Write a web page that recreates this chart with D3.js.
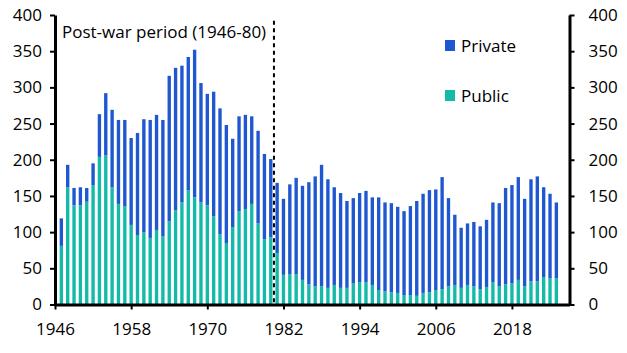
<!DOCTYPE html>
<html>
<head>
<meta charset="utf-8">
<script src="https://cdn.jsdelivr.net/npm/d3@7"></script>
<style>
  body { margin: 0; background: #fff; }
  svg text { font-family: "Open Sans", sans-serif; fill: #000; }
</style>
</head>
<body>
<svg width="627" height="353"></svg>
<script>
// years shown as bars
var years = d3.range(1947, 2026);

// housing completions, thousands
var publicVals = [81,162,137,137,142,165,204,206,162,139,136,110,96,100,92,103,94,115,130,141,
  158,148,141,137,122,97,85,107,129,132,139,112,90,93,71,41,42,42,34,28,
  25,25,23,27,23,23,29,31,31,27,20,18,17,16,13,13,12,16,17,20,
  21,25,27,23,27,25,21,24,31,25,28,29,34,25,32,32,38,36,36];

var privateVals = [38,31,24,25,19,30,59,86,107,116,119,120,141,156,163,159,161,201,197,189,
  184,204,165,154,172,174,163,122,131,130,121,128,118,108,97,105,124,133,130,141,
  152,168,150,135,131,120,118,123,126,121,128,123,123,119,116,123,131,137,141,139,
  155,122,97,83,85,89,87,93,110,115,133,136,142,121,141,145,124,117,105];

var yTicks = [0, 50, 100, 150, 200, 250, 300, 350, 400];
var xTicks = [1946, 1958, 1970, 1982, 1994, 2006, 2018];
var seriesNames = ["Private", "Public"];
var colors = {"Private": "#1f57d0", "Public": "#14baa8"};

var svg = d3.select("svg");
var plotL = 55, plotR = 569.5, plotT = 15, plotB = 304.5;

var x = d3.scaleLinear()
  .domain([1946, 2027.07])
  .range([plotL, plotR]);

var y = d3.scaleLinear()
  .domain([0, 400])
  .range([plotB, plotT]);

var barW = (x(1948) - x(1947)) * 0.53;

var rows = years.map(function(yr, i) {
  return {year: yr, Public: publicVals[i], Private: privateVals[i]};
});
var stack = d3.stack().keys(["Public", "Private"])(rows);

// bars
svg.append("g")
  .selectAll("g")
  .data(stack)
  .enter()
  .append("g")
  .attr("fill", function(d) { return colors[d.key]; })
  .selectAll("rect")
  .data(function(d) { return d; })
  .enter()
  .append("rect")
  .attr("x", function(d) { return x(d.data.year) - barW / 2; })
  .attr("width", barW)
  .attr("y", function(d) { return y(d[1]); })
  .attr("height", function(d) { return y(d[0]) - y(d[1]); });

// dashed divider after 1980
svg.append("line")
  .attr("x1", x(1980.5)).attr("x2", x(1980.5))
  .attr("y1", y(392)).attr("y2", y(0))
  .attr("stroke", "#000")
  .attr("stroke-width", 2)
  .attr("stroke-dasharray", "4,3.5");

// axes
function styleAxis(g) {
  g.select(".domain").attr("stroke-width", 3);
  g.selectAll(".tick line").attr("stroke-width", 2);
  g.selectAll(".tick text").style("font-size", "17px").style("font-family", "Open Sans");
}

svg.append("g")
  .attr("transform", "translate(" + plotL + ",0)")
  .call(d3.axisLeft(y).tickValues(yTicks).tickSize(5).tickSizeOuter(0).tickPadding(8))
  .call(styleAxis);

svg.append("g")
  .attr("transform", "translate(" + plotR + ",0)")
  .call(d3.axisRight(y).tickValues(yTicks).tickSize(5).tickSizeOuter(0).tickPadding(14))
  .call(styleAxis);

svg.append("g")
  .attr("transform", "translate(0," + plotB + ")")
  .call(d3.axisBottom(x).tickValues(xTicks).tickFormat(d3.format("d")).tickSize(5).tickSizeOuter(0).tickPadding(13))
  .call(styleAxis);

// annotation
svg.append("text")
  .attr("x", 62)
  .attr("y", 38)
  .style("font-size", "17px")
  .text("Post-war period (1946-80)");

// legend
var legend = svg.append("g")
  .selectAll("g")
  .data(seriesNames)
  .enter()
  .append("g")
  .attr("transform", function(d, i) { return "translate(445," + (40 + i * 50) + ")"; });

legend.append("rect")
  .attr("width", 10)
  .attr("height", 11)
  .attr("fill", function(d) { return colors[d]; });

legend.append("text")
  .attr("x", 16)
  .attr("y", 12)
  .style("font-size", "17px")
  .text(function(d) { return d; });
</script>
</body>
</html>
